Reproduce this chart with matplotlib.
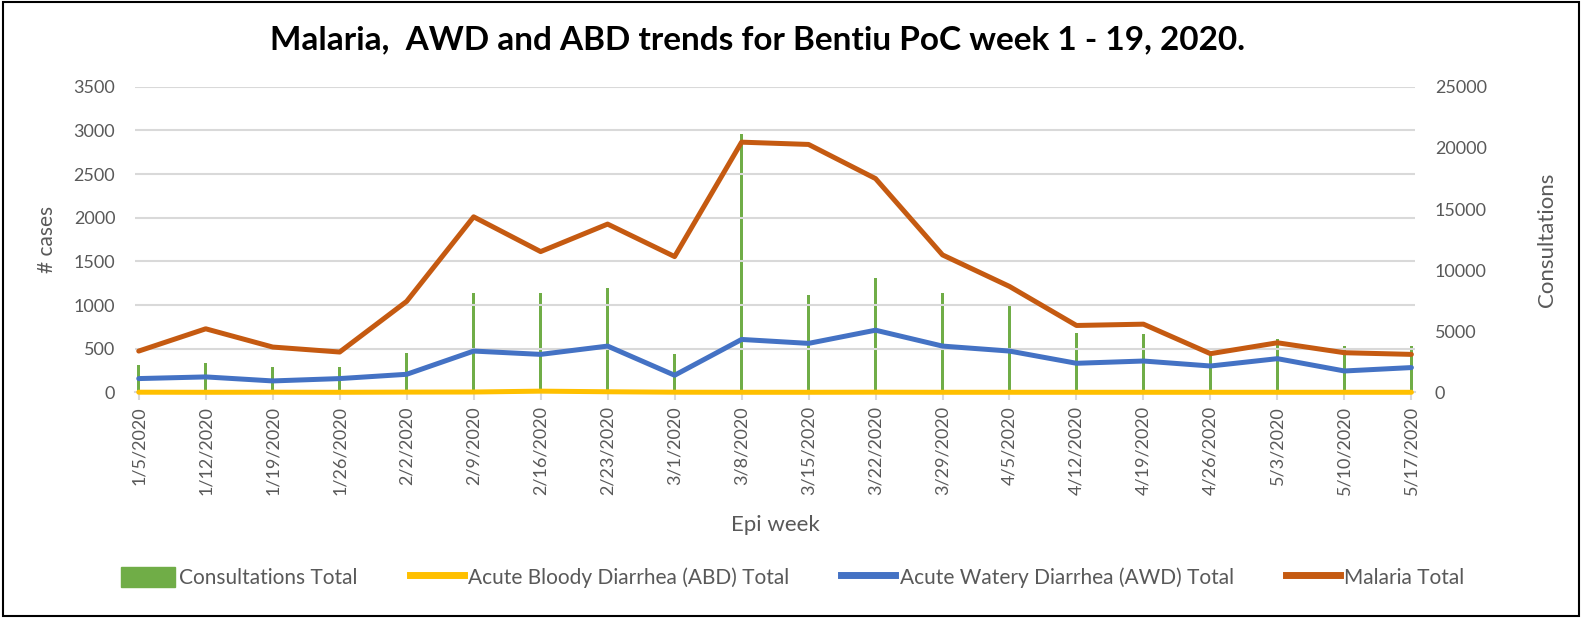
import numpy as np
import matplotlib.pyplot as plt
from matplotlib.patches import Rectangle, Patch
from matplotlib.lines import Line2D

plt.rcParams['font.family'] = ['Lato', 'DejaVu Sans']

# data
weeks = ['1/5/2020', '1/12/2020', '1/19/2020', '1/26/2020', '2/2/2020', '2/9/2020',
         '2/16/2020', '2/23/2020', '3/1/2020', '3/8/2020', '3/15/2020', '3/22/2020',
         '3/29/2020', '4/5/2020', '4/12/2020', '4/19/2020', '4/26/2020', '5/3/2020',
         '5/10/2020', '5/17/2020']
consultations = [2220, 2380, 2115, 2115, 3250, 8140, 8140, 8540, 3115, 21150,
                 8000, 9360, 8140, 7180, 4880, 4800, 3100, 4390, 3790, 3790]
abd = [3, 2, 3, 2, 4, 5, 15, 8, 3, 2, 2, 3, 2, 2, 2, 2, 2, 2, 2, 2]
awd = [159, 178, 132, 159, 208, 474, 436, 531, 197, 607,
       562, 713, 531, 474, 334, 360, 303, 387, 246, 285]
malaria = [474, 729, 520, 463, 1043, 2011, 1613, 1928, 1556, 2866,
           2840, 2449, 1575, 1214, 767, 782, 444, 569, 455, 436]

c_green = '#70AD47'
c_yellow = '#FFC000'
c_blue = '#4472C4'
c_orange = '#C55A11'
c_text = '#595959'

fig = plt.figure(figsize=(15.85, 6.2), dpi=100)
ax = fig.add_axes([0.085, 0.367, 0.808, 0.493])
ax2 = ax.twinx()
ax.set_zorder(ax2.get_zorder() + 1)
ax.patch.set_visible(False)

x = np.arange(len(weeks))
ax2.bar(x, consultations, width=0.045, color=c_green)
for vals, col in [(abd, c_yellow), (awd, c_blue), (malaria, c_orange)]:
    ax.plot(x, vals, color=col, lw=3.6, solid_capstyle='round',
            solid_joinstyle='round', clip_on=False, zorder=4)

ax.set_ylim(0, 3500)
ax.set_yticks(np.arange(0, 3501, 500))
ax2.set_ylim(0, 25000)
ax2.set_yticks(np.arange(0, 25001, 5000))
ax.set_xlim(-0.06, len(weeks) - 1 + 0.06)
ax.set_xticks(x)
ax.set_xticklabels(weeks, rotation=90)

ax.grid(axis='y', color='#D9D9D9', lw=1.5)
for a in (ax, ax2):
    for s in a.spines.values():
        s.set_visible(False)
    a.tick_params(axis='y', length=0, labelsize=13, labelcolor=c_text, pad=14)
ax.spines['bottom'].set_visible(True)
ax.spines['bottom'].set_color('#D9D9D9')
ax.spines['bottom'].set_linewidth(1.5)
ax.tick_params(axis='x', length=6, color='#D9D9D9', width=1.5, labelsize=13,
               labelcolor=c_text, pad=4)

ax.set_ylabel('# cases', fontsize=15, color=c_text, labelpad=12)
ax2.set_ylabel('Consultations', fontsize=16, color=c_text, labelpad=36)
ax.set_xlabel('Epi week', fontsize=16, color=c_text, labelpad=14)

fig.text(0.478, 0.935, 'Malaria,  AWD and ABD trends for Bentiu PoC week 1 - 19, 2020.',
         ha='center', va='center', fontsize=24, fontweight='bold', color='black')

handles = [Patch(facecolor=c_green, edgecolor=c_green),
           Line2D([0], [0], color=c_yellow, lw=5),
           Line2D([0], [0], color=c_blue, lw=5),
           Line2D([0], [0], color=c_orange, lw=5)]
labels = ['Consultations Total', 'Acute Bloody Diarrhea (ABD) Total',
          'Acute Watery Diarrhea (AWD) Total', 'Malaria Total']
fig.legend(handles, labels, loc='center', bbox_to_anchor=(0.5, 0.069), ncol=4,
           frameon=False, fontsize=15, labelcolor=c_text, handlelength=2.6,
           handleheight=1.1, handletextpad=0.2, columnspacing=2.5)

fig.patches.append(Rectangle((0.002, 0.006), 0.994, 0.99, transform=fig.transFigure,
                             fill=False, edgecolor='black', lw=1.5))

fig.savefig('out.png', dpi=100)
